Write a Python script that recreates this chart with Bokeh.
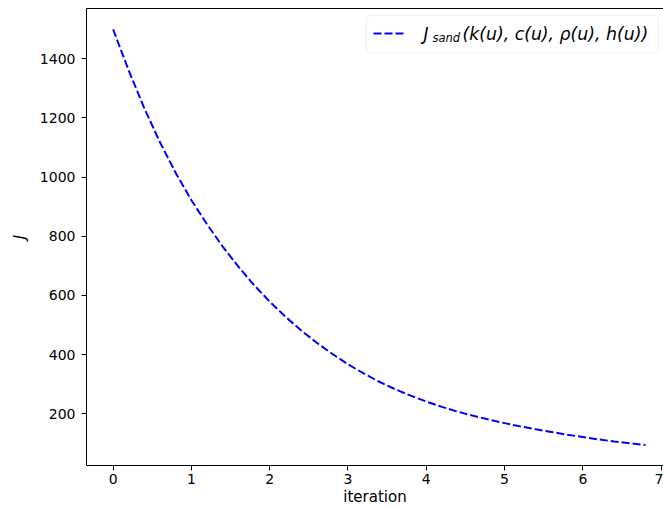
from bokeh.plotting import figure
from bokeh.models import Range1d, LinearAxis, FixedTicker, BoxAnnotation, Label
from bokeh.embed import file_html
from bokeh.resources import INLINE

# ---- data ----
iteration = [0.0, 0.2, 0.4, 0.6, 0.8, 1.0, 1.2, 1.4, 1.6, 1.8, 2.0, 2.2, 2.4, 2.6, 2.8,
             3.0, 3.2, 3.4, 3.6, 3.8, 4.0, 4.2, 4.4, 4.6, 4.8, 5.0, 5.2, 5.4, 5.6, 5.8,
             6.0, 6.2, 6.4, 6.6, 6.8]
J_sand = [1500, 1360, 1232, 1117, 1014, 922, 840, 765, 697, 635, 579, 528, 482, 440, 402,
          367, 336, 308, 283, 261, 241, 223, 207, 193, 180, 168, 157, 147, 138, 129,
          121, 113, 106, 100, 94]
x_ticks = [0, 1, 2, 3, 4, 5, 6, 7]
y_ticks = [200, 400, 600, 800, 1000, 1200, 1400]

FONT = "DejaVu Sans"
X0, X1 = -0.34, 7.03
Y0, Y1 = 24.75, 1570.25
FRAME_W, FRAME_H = 577, 457

p = figure(width=663, height=508, output_backend="svg", toolbar_location=None,
           x_range=Range1d(X0, X1), y_range=Range1d(Y0, Y1),
           min_border_left=86, min_border_right=0, min_border_top=8, min_border_bottom=43)
p.outline_line_color = None
p.grid.visible = False
p.background_fill_color = "white"

p.xaxis.ticker = FixedTicker(ticks=x_ticks)
p.yaxis.ticker = FixedTicker(ticks=y_ticks)
for ax in (p.xaxis[0], p.yaxis[0]):
    ax.axis_line_color = "black"
    ax.major_tick_line_color = "black"
    ax.major_tick_out = 5
    ax.major_tick_in = 0
    ax.minor_tick_line_color = None
    ax.major_label_text_font = FONT
    ax.major_label_text_font_size = "14px"
    ax.major_label_text_color = "black"
    ax.axis_label_text_font = FONT
    ax.axis_label_text_font_size = "15px"
    ax.axis_label_text_color = "black"
p.xaxis.axis_label = "iteration"
p.xaxis.axis_label_text_font_style = "normal"
p.xaxis.major_label_standoff = 3
p.xaxis.axis_label_standoff = 1
p.yaxis.axis_label = "J"
p.yaxis.axis_label_text_font_style = "italic"
p.yaxis.major_label_standoff = 6
p.yaxis.axis_label_standoff = 8

top = LinearAxis(ticker=FixedTicker(ticks=[]), major_label_standoff=0, major_tick_out=0,
                 major_tick_in=0, axis_line_color="black", major_label_text_font_size="0px")
p.add_layout(top, "above")

p.line(iteration, J_sand, line_color="blue", line_width=2, line_dash="8 3")

# ---- legend drawn by hand (frame pixel -> data) ----
def fx(px):
    return X0 + px / FRAME_W * (X1 - X0)

def fy(py):
    return Y1 - py / FRAME_H * (Y1 - Y0)

p.add_layout(BoxAnnotation(left=fx(280), right=fx(572), top=fy(7), bottom=fy(44),
                           fill_color="white", fill_alpha=0.8, line_color="#cccccc",
                           line_width=1, border_radius=3, level="annotation"))
p.line([fx(287), fx(319)], [fy(25), fy(25)], line_color="blue", line_width=2,
       line_dash="8 3", level="overlay")
p.add_layout(Label(x=fx(337), y=fy(25), text="J", text_font=FONT, text_font_size="17px",
                   text_font_style="italic", text_baseline="middle", text_color="black",
                   level="overlay"))
p.add_layout(Label(x=fx(346), y=fy(29), text="sand", text_font=FONT, text_font_size="11.5px",
                   text_font_style="italic", text_baseline="middle", text_color="black",
                   level="overlay"))
p.add_layout(Label(x=fx(376), y=fy(25), text="(k(u), c(u), ρ(u), h(u))", text_font=FONT,
                   text_font_size="17.3px", text_font_style="italic", text_baseline="middle",
                   text_color="black", level="overlay"))

open("out.html", "w").write(file_html(p, INLINE))
